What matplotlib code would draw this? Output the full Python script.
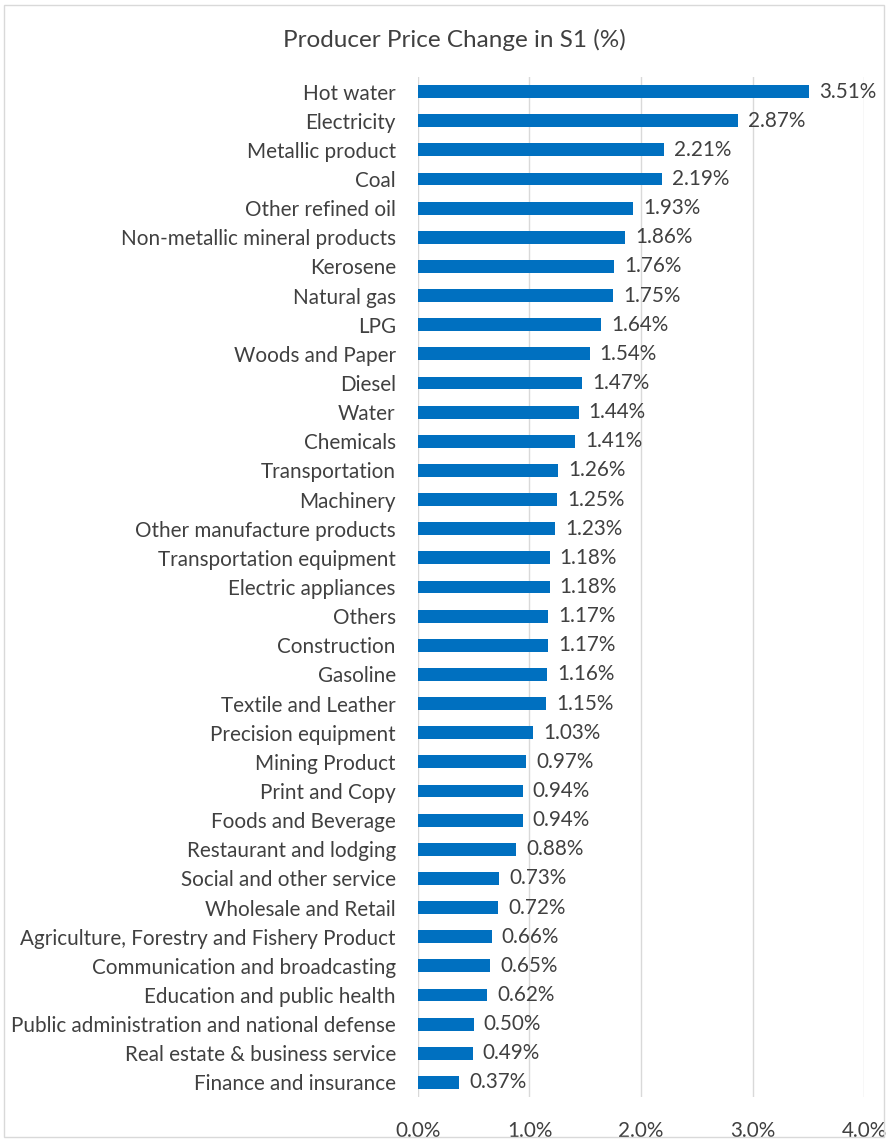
import matplotlib
matplotlib.use("Agg")
import matplotlib.pyplot as plt
from matplotlib.patches import Rectangle

categories = [
    "Hot water", "Electricity", "Metallic product", "Coal", "Other refined oil",
    "Non-metallic mineral products", "Kerosene", "Natural gas", "LPG",
    "Woods and Paper", "Diesel", "Water", "Chemicals", "Transportation",
    "Machinery", "Other manufacture products", "Transportation equipment",
    "Electric appliances", "Others", "Construction", "Gasoline",
    "Textile and Leather", "Precision equipment", "Mining Product",
    "Print and Copy", "Foods and Beverage", "Restaurant and lodging",
    "Social and other service", "Wholesale and Retail",
    "Agriculture, Forestry and Fishery Product",
    "Communication and broadcasting", "Education and public health",
    "Public administration and national defense",
    "Real estate & business service", "Finance and insurance",
]
values = [
    3.51, 2.87, 2.21, 2.19, 1.93, 1.86, 1.76, 1.75, 1.64, 1.54, 1.47, 1.44,
    1.41, 1.26, 1.25, 1.23, 1.18, 1.18, 1.17, 1.17, 1.16, 1.15, 1.03, 0.97,
    0.94, 0.94, 0.88, 0.73, 0.72, 0.66, 0.65, 0.62, 0.50, 0.49, 0.37,
]
x_ticks = [0.0, 1.0, 2.0, 3.0, 4.0]

FONT = ["Lato", "DejaVu Sans"]
TEXT = "#404040"
BAR = "#0070C0"
GRID = "#D9D9D9"
FS = 14.9

fig = plt.figure(figsize=(8.88, 11.4), dpi=100)
fig.patches.append(Rectangle((0.004, 0.003), 0.992, 0.993, transform=fig.transFigure,
                             fill=False, edgecolor="#D9D9D9", linewidth=1.0))

ax = fig.add_axes([0.4707, 0.0377, 0.5023, 0.8948])
y = list(range(len(categories)))
ax.barh(y, values, height=0.44, color=BAR, zorder=3)
ax.set_ylim(len(categories) - 0.5, -0.5)
ax.set_xlim(0, 4.0)

ax.set_xticks(x_ticks)
ax.set_xticklabels([f"{t:.1f}%" for t in x_ticks], fontsize=FS, color=TEXT, family=FONT)
ax.set_yticks(y)
ax.set_yticklabels(categories, fontsize=FS, color=TEXT, family=FONT)
ax.tick_params(axis="both", length=0)
ax.tick_params(axis="y", pad=16)
ax.tick_params(axis="x", pad=17)
ax.grid(axis="x", color=GRID, linewidth=1.0, zorder=0)
for s in ax.spines.values():
    s.set_visible(False)

for yi, v in zip(y, values):
    ax.text(v + 0.09, yi, f"{v:.2f}%", va="center", ha="left",
            fontsize=FS, color=TEXT, family=FONT)

fig.text(0.512, 0.965, "Producer Price Change in S1 (%)", ha="center", va="center",
         fontsize=17.5, color=TEXT, family=FONT)

fig.savefig("out.png", dpi=100)
